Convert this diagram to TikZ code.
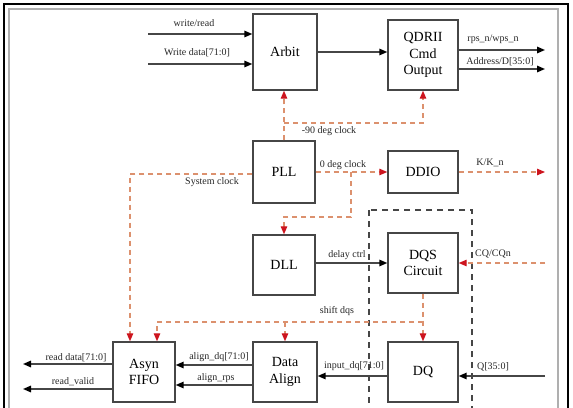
\documentclass[tikz,border=0pt]{standalone}
\usepackage{fontspec}
\setmainfont{Liberation Serif}
\usetikzlibrary{arrows.meta}
\definecolor{boxgray}{RGB}{70,70,70}
\definecolor{clkline}{RGB}{220,145,110}
\definecolor{clktip}{RGB}{205,20,30}
\definecolor{framegray}{RGB}{175,175,175}

\begin{document}
\begin{tikzpicture}
        [x=1pt, y=-1pt, font=\fontsize{10}{11}\selectfont,
         blk/.style={rectangle, draw=boxgray, line width=1.4pt, fill=white, align=center, inner sep=1pt, font=\fontsize{14}{16.5}\selectfont},
         sig/.style={draw=boxgray, line width=1.5pt, -{Triangle[length=8pt, width=6.5pt, color=black]}},
         clkarr/.style={draw=clkline, line width=1.2pt, dash pattern=on 5pt off 4pt, -{Triangle[length=8pt, width=6.5pt, color=clktip]}},
         lbl/.style={inner sep=0pt, text=black!85}]

        \useasboundingbox (0,0) rectangle (573,407);
        \clip (0,0) rectangle (573,407);

        % frame
        \draw[line width=1.3pt] (4,4) rectangle (568,430);
        \draw[framegray, line width=1.8pt] (9,9) rectangle (558,430);
        \draw[boxgray, line width=1.4pt, dash pattern=on 6pt off 5pt] (369,210) rectangle (472,430);

        % blocks
        \node[blk, minimum width=64pt, minimum height=76pt] (arbit) at (285, 52) {Arbit};
        \node[blk, minimum width=70pt, minimum height=70pt] (qdr) at (423, 55) {QDRII\\Cmd\\Output};
        \node[blk, minimum width=62pt, minimum height=62pt] (pll) at (284, 172) {PLL};
        \node[blk, minimum width=70pt, minimum height=42pt] (ddio) at (423, 172) {DDIO};
        \node[blk, minimum width=62pt, minimum height=60pt] (dll) at (284, 265) {DLL};
        \node[blk, minimum width=70pt, minimum height=60pt] (dqs) at (423, 263) {DQS\\Circuit};
        \node[blk, minimum width=62pt, minimum height=60pt] (fifo) at (144, 372) {Asyn\\FIFO};
        \node[blk, minimum width=64pt, minimum height=60pt] (align) at (285, 372) {Data\\Align};
        \node[blk, minimum width=70pt, minimum height=60pt] (dq) at (423, 372) {DQ};

        % free ends and corners
        \coordinate (wrin) at (148, 34);
        \coordinate (wdin) at (148, 64);
        \coordinate (rpsout) at (545, 50);
        \coordinate (addrout) at (545, 69);
        \coordinate (kout) at (545, 172);
        \coordinate (cqin) at (545, 263);
        \coordinate (qin) at (545, 376);
        \coordinate (rdout) at (23, 364);
        \coordinate (rvout) at (23, 389);
        \coordinate (adqrow) at (200, 365);
        \coordinate (arpsrow) at (200, 385);
        \coordinate (m90) at (284, 123);
        \coordinate (sysc) at (130, 174);
        \coordinate (dllc) at (351, 217);
        \coordinate (dqsc) at (423, 322);
        \coordinate (fifoc) at (157, 322);

        % data paths
        \draw[sig] (wrin) -- (wrin -| arbit.west);
        \draw[sig] (wdin) -- (wdin -| arbit.west);
        \draw[sig] (arbit.east) -- (arbit.east -| qdr.west);
        \draw[sig] (rpsout -| qdr.east) -- (rpsout);
        \draw[sig] (addrout -| qdr.east) -- (addrout);
        \draw[sig] (dqs.west -| dll.east) -- (dqs.west);
        \draw[sig] (qin) -- (qin -| dq.east);
        \draw[sig] (qin -| dq.west) -- (qin -| align.east);
        \draw[sig] (adqrow -| align.west) -- (adqrow -| fifo.east);
        \draw[sig] (arpsrow -| align.west) -- (arpsrow -| fifo.east);
        \draw[sig] (rdout -| fifo.west) -- (rdout);
        \draw[sig] (rvout -| fifo.west) -- (rvout);

        % clocks
        \draw[clkarr] (pll.north) -- (pll.north |- arbit.south);
        \draw[clkarr] (m90) -| (qdr.south);
        \draw[clkarr] (pll.east) -- (ddio.west);
        \draw[clkarr] (ddio.east) -- (kout);
        \draw[clkarr] (pll.east -| dllc) -- (dllc) -| (dll.north);
        \draw[clkarr] (sysc -| pll.west) -- (sysc) -- (sysc |- fifo.north);
        \draw[clkarr] (cqin) -- (cqin -| dqs.east);
        \draw[clkarr] (dqs.south) -- (dq.north);
        \draw[clkarr] (dqsc) -- (fifoc) -- (fifoc |- fifo.north);
        \draw[clkarr] (dqsc -| align.north) -- (align.north);

        % labels
        \node[lbl] (lwr) at (194, 23) {write/read};
        \node[lbl] (lwd) at (197, 53) {Write data[71:0]};
        \node[lbl] (lrps) at (493, 39) {rps\_n/wps\_n};
        \node[lbl] (laddr) at (500, 62) {Address/D[35:0]};
        \node[lbl] (lm90) at (329, 131) {-90 deg clock};
        \node[lbl] (lsys) at (212, 182) {System clock};
        \node[lbl] (l0) at (343, 165) {0 deg clock};
        \node[lbl] (lk) at (490, 163) {K/K\_n};
        \node[lbl] (ldly) at (347, 255) {delay ctrl};
        \node[lbl] (lcq) at (493, 254) {CQ/CQn};
        \node[lbl] (lshift) at (337, 311) {shift dqs};
        \node[lbl] (ladq) at (219, 357) {align\_dq[71:0]};
        \node[lbl] (larps) at (216, 378) {align\_rps};
        \node[lbl] (lrd) at (76, 358) {read data[71:0]};
        \node[lbl] (lrv) at (73, 382) {read\_valid};
        \node[lbl] (lin) at (354, 366) {input\_dq[71:0]};
        \node[lbl] (lq) at (493, 367) {Q[35:0]};
\end{tikzpicture}
\end{document}
